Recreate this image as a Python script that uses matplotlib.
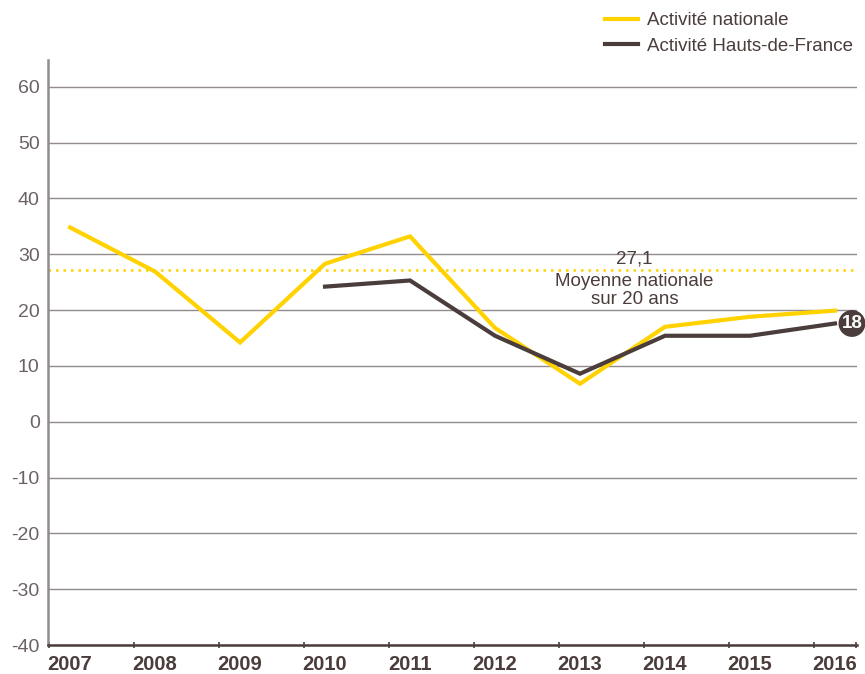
import matplotlib
matplotlib.use("Agg")
import matplotlib.pyplot as plt

# Données
annees = [2007, 2008, 2009, 2010, 2011, 2012, 2013, 2014, 2015, 2016]
national = [34.8, 26.9, 14.2, 28.3, 33.2, 16.8, 6.8, 17.0, 18.8, 19.9]
annees_hdf = [2010, 2011, 2012, 2013, 2014, 2015, 2016]
hdf = [24.2, 25.3, 15.4, 8.6, 15.4, 15.4, 17.6]
moyenne = 27.1
dernier_hdf = "18"

JAUNE = "#FFD200"
BRUN = "#4B3D3B"
GRIS = "#938A8B"
TEXTE = "#6B6263"

plt.rcParams["font.family"] = ["Liberation Sans", "DejaVu Sans"]

fig = plt.figure(figsize=(8.65, 6.74), dpi=100)
ax = fig.add_axes([0.0555, 0.043, 0.9353, 0.868])

x_nat = [a - annees[0] for a in annees]
x_hdf = [a - annees[0] for a in annees_hdf]

ax.plot(x_nat, national, color=JAUNE, linewidth=3, label="Activité nationale",
        zorder=3, solid_joinstyle="miter")
ax.plot(x_hdf, hdf, color=BRUN, linewidth=3, label="Activité Hauts-de-France",
        zorder=4, solid_joinstyle="miter")
ax.axhline(moyenne, color=JAUNE, linestyle=(0, (1, 2)), linewidth=1.8, zorder=2)

ax.text(6.64, moyenne + 0.5, "27,1", ha="center", va="bottom",
        fontsize=13.5, color=BRUN)
ax.text(6.64, moyenne - 0.4, "Moyenne nationale\nsur 20 ans", ha="center",
        va="top", fontsize=13.5, color=BRUN, linespacing=1.08)

# pastille de la dernière valeur
ax.text(9.2, hdf[-1], dernier_hdf, ha="center", va="center",
        fontsize=13.5, fontweight="bold", color="white", zorder=6, clip_on=False,
        bbox=dict(boxstyle="circle,pad=0.16", fc=BRUN, ec="none"))

ax.set_yticks(range(-40, 61, 10))
ax.set_yticklabels([str(v) for v in range(-40, 61, 10)])
ax.grid(axis="y", color=GRIS, linewidth=1)
ax.set_axisbelow(True)

ax.set_xticks([i - 0.25 for i in range(10)] + [9.25])
ax.set_xticklabels([])
ax.set_xticks(x_nat, minor=True)
ax.set_xticklabels([str(a) for a in annees], minor=True, fontweight="bold",
                   fontsize=14.5, color=BRUN)
ax.tick_params(axis="x", which="major", length=5, color=BRUN, width=1.2, direction="inout")
ax.tick_params(axis="x", which="minor", length=0, pad=7)
ax.tick_params(axis="y", length=0, labelsize=14, labelcolor=TEXTE, pad=6)

ax.set_xlim(-0.26, 9.26)
ax.set_ylim(-40, 64.8)

for s in ["top", "right"]:
    ax.spines[s].set_visible(False)
ax.spines["left"].set_color(GRIS)
ax.spines["left"].set_linewidth(1.8)
ax.spines["bottom"].set_color(BRUN)
ax.spines["bottom"].set_linewidth(1.8)

fig.legend(loc="upper right", bbox_to_anchor=(1.0, 1.0), frameon=False,
           fontsize=13.5, handlelength=1.8, handletextpad=0.45, labelspacing=0.45,
           labelcolor=BRUN, borderaxespad=0.25)

fig.savefig("out.png", dpi=100)
